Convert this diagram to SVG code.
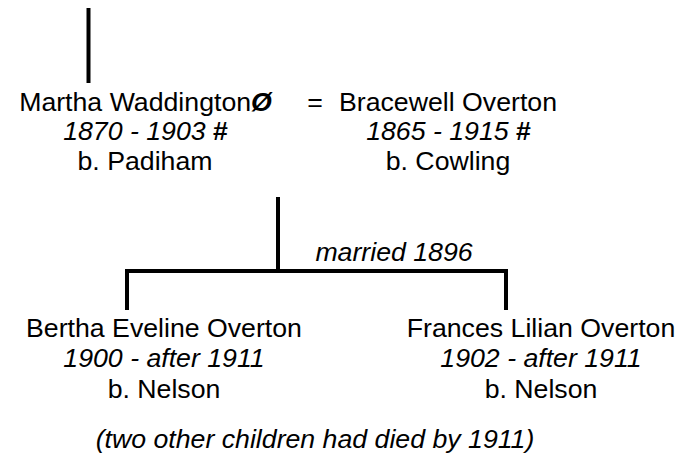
<svg xmlns="http://www.w3.org/2000/svg" width="683" height="457" viewBox="0 0 683 457">
<style>
text{font-family:"Liberation Sans",Arial,sans-serif;font-size:26.7px;fill:#000;text-anchor:middle}
.i{font-style:italic}
.b{font-weight:bold;font-style:normal}
.bi{font-weight:bold;font-style:italic}
.ln{stroke:#000;stroke-width:4;fill:none}
</style>
<rect width="683" height="457" fill="#fff"/>
<g id="connectors">
<line class="ln" x1="88.5" y1="8" x2="88.5" y2="83"/>
<line class="ln" x1="278" y1="197" x2="278" y2="271"/>
<polyline class="ln" points="127,310 127,271 506,271 506,310"/>
</g>
<g id="martha">
<text x="145.5" y="111">Martha Waddington<tspan class="bi">Ø</tspan></text>
<text class="i" x="145.5" y="140">1870 - 1903 <tspan class="b">#</tspan></text>
<text x="145" y="170">b. Padiham</text>
</g>
<g id="marriage">
<text x="315" y="111">=</text>
<text class="i" x="394" y="261">married 1896</text>
</g>
<g id="bracewell">
<text x="448" y="111">Bracewell Overton</text>
<text class="i" x="448.5" y="140">1865 - 1915 <tspan class="b">#</tspan></text>
<text x="448" y="170">b. Cowling</text>
</g>
<g id="bertha">
<text x="164" y="337">Bertha Eveline Overton</text>
<text class="i" x="164" y="367">1900 - after 1911</text>
<text x="164" y="398">b. Nelson</text>
</g>
<g id="frances">
<text x="541" y="337">Frances Lilian Overton</text>
<text class="i" x="541" y="367">1902 - after 1911</text>
<text x="541" y="398">b. Nelson</text>
</g>
<g id="note"><text class="i" x="315" y="448">(two other children had died by 1911)</text></g>
</svg>
